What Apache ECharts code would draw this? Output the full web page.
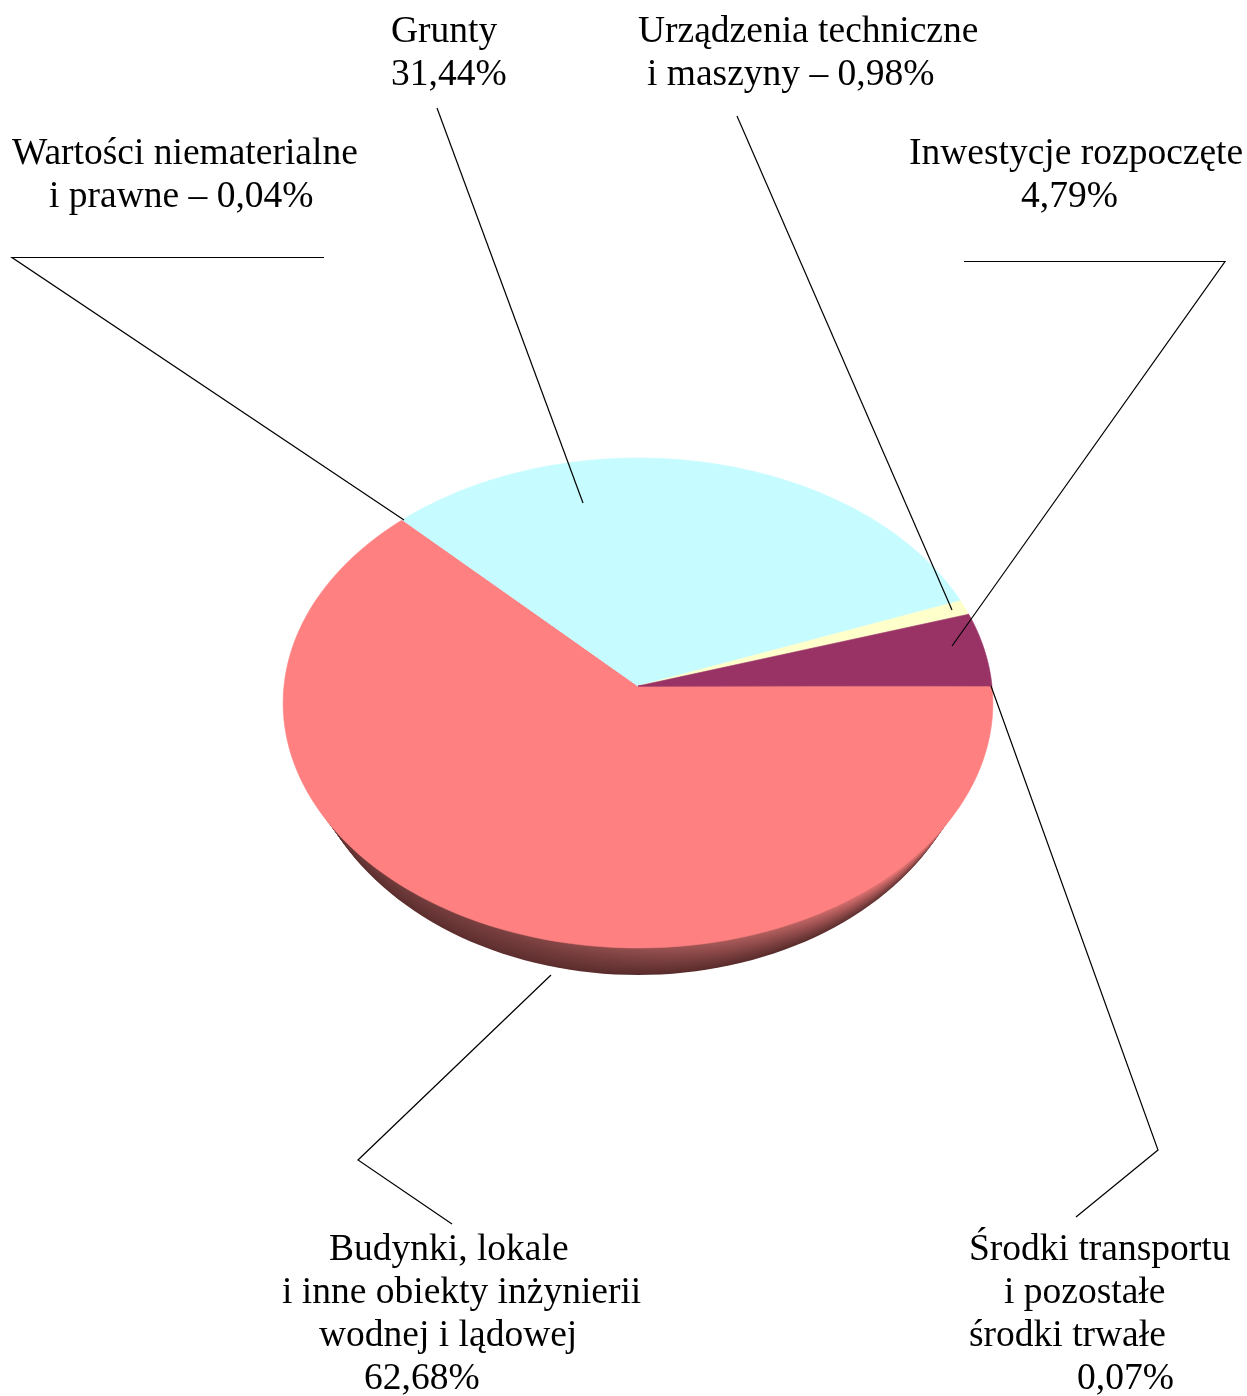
<!DOCTYPE html>
<html>
<head>
<meta charset="utf-8">
<style>html,body{margin:0;padding:0;background:#fff}#c{width:1247px;height:1396px}</style>
<script src="https://cdn.jsdelivr.net/npm/echarts@6/dist/echarts.min.js"></script>
</head>
<body>
<div id="c"></div>
<script>
// Data
var sliceNames = ['Budynki, lokale i inne obiekty inżynierii wodnej i lądowej','Wartości niematerialne i prawne','Grunty','Urządzenia techniczne i maszyny','Inwestycje rozpoczęte','Środki transportu i pozostałe środki trwałe'];
var sliceValues = [62.68, 0.04, 31.44, 0.98, 4.79, 0.07];
var sliceColors = ['#ff8080', '#c6fbff', '#c6fbff', '#ffffcc', '#993366', '#993366'];
var labelLines = [
  ['Grunty', '31,44%'],
  ['Urządzenia techniczne', 'i maszyny – 0,98%'],
  ['Wartości niematerialne', 'i prawne – 0,04%'],
  ['Inwestycje rozpoczęte', '4,79%'],
  ['Budynki, lokale', 'i inne obiekty inżynierii', 'wodnej i lądowej', '62,68%'],
  ['Środki transportu', 'i pozostałe', 'środki trwałe', '0,07%']
];
// Layout
var labelX = [[391, 391], [638, 647], [12, 49], [909, 1021], [329, 282, 319, 364], [969, 1004, 969, 1077]];
var labelBase = [[51, 94], [51, 94], [173, 216], [173, 216], [1269, 1312, 1355, 1398], [1269, 1312, 1355, 1398]];
var leaders = [
  [[324, 257.5], [12, 257.5], [404, 520]],
  [[437, 108], [583, 503]],
  [[737, 116], [952, 610]],
  [[964, 261.5], [1225, 261.5], [952, 646]],
  [[991, 686], [1158, 1150], [1076, 1217]],
  [[551, 975], [358, 1160], [452, 1224]]
];
var apex = [638, 686], radiusX = 354, radiusY = 243.8, persp = 0.0694;

function project(deg) {
  var a = deg * Math.PI / 180, u = Math.cos(a), v = Math.sin(a), w = 1 - persp * v;
  return [apex[0] + radiusX * u / w, apex[1] + radiusY * v / w];
}
var total = sliceValues.reduce(function (s, v) { return s + v; }, 0);
var starts = [];
sliceValues.reduce(function (s, v, i) { starts[i] = s; return s + v; }, 0);

function renderSlice(params, api) {
  var i = params.dataIndex, val = api.value(0);
  var a0 = starts[i] / total * 360, a1 = a0 + val / total * 360;
  var n = Math.max(2, Math.ceil((a1 - a0) / 1.5)), pts = [apex.slice()];
  for (var k = 0; k <= n; k++) pts.push(project(a0 + (a1 - a0) * k / n));
  return { type: 'polygon', shape: { points: pts }, style: { fill: sliceColors[i], stroke: sliceColors[i], lineWidth: 0.6, lineJoin: 'round' } };
}

// Rim (the disc's side): stacked ellipses between the lower and upper outline
function mix(c0, c1, t) {
  var r = c0.map(function (x, i) { return Math.round(x + (c1[i] - x) * t); });
  return 'rgb(' + r.join(',') + ')';
}
var rimStops = [0, 0.09, 0.3, 0.5, 0.72, 0.88, 1];
var rimLow = [[92,46,46],[92,46,46],[94,46,46],[90,44,44],[90,44,44],[96,50,50],[120,60,60]];
var rimHigh = [[110,58,58],[110,58,58],[125,66,66],[150,80,80],[190,100,100],[250,126,126],[255,128,128]];
var rimSteps = [0,1,2,3,4,5,6,7,8,9,10,11,12,13,14,15,16,17];
function renderRim(params, api) {
  var t = api.value(0) / 17, pts = [];
  var cy = 726 - 23 * t, rx = 334 + 20 * t, ry = 249 - 4 * t;
  for (var d = 10; d <= 170; d += 2) {
    var a = d * Math.PI / 180;
    pts.push([apex[0] + rx * Math.cos(a), cy + ry * Math.sin(a)]);
  }
  return { type: 'polygon', shape: { points: pts }, style: { fill: {
    type: 'linear', x: 0, y: 0, x2: 1, y2: 0,
    colorStops: rimStops.map(function (o, i) { return { offset: o, color: mix(rimLow[i], rimHigh[i], t) }; })
  } } };
}

var elements = [];
leaders.forEach(function (pts) {
  elements.push({ type: 'polyline', z: 50, shape: { points: pts }, style: { stroke: '#000', lineWidth: 1.2, fill: null } });
});
labelLines.forEach(function (lines, i) {
  lines.forEach(function (txt, j) {
    elements.push({ type: 'text', z: 60, x: labelX[i][j], y: labelBase[i][j],
      style: { text: txt, fill: '#000', font: '37.5px "Liberation Serif"', textAlign: 'left', textVerticalAlign: 'bottom' } });
  });
});

var chart = echarts.init(document.getElementById('c'), null, { renderer: 'canvas' });
chart.setOption({
  backgroundColor: '#ffffff',
  animation: false,
  graphic: { elements: elements },
  series: [
    { type: 'custom', coordinateSystem: 'none', silent: true, z: 1, renderItem: renderRim, data: rimSteps.map(function (s) { return [s]; }) },
    { type: 'custom', coordinateSystem: 'none', silent: true, z: 2, renderItem: renderSlice,
      data: sliceValues.map(function (v, i) { return { name: sliceNames[i], value: [v] }; }) }
  ]
});
</script>
</body>
</html>
